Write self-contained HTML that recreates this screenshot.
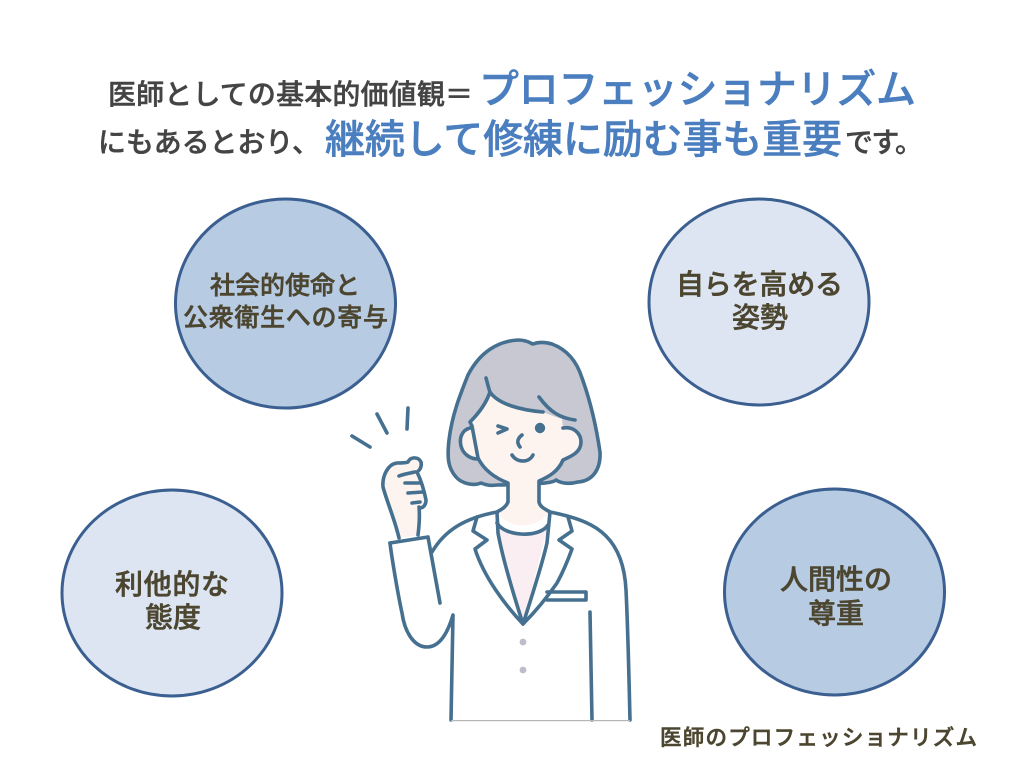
<!DOCTYPE html>
<html lang="ja"><head><meta charset="utf-8"><style>
html,body{margin:0;padding:0;background:#fff}
svg{display:block}
text{font-family:"Liberation Sans","Noto Sans CJK JP",sans-serif}
.d{fill:#444;stroke:#444;stroke-width:.45;font-size:28px;font-weight:500}
.b{fill:#4a7ebf;stroke:#4a7ebf;stroke-width:.5;font-weight:500;font-size:40px}
.l{fill:#4c4630;stroke:#4c4630;stroke-width:.55;font-weight:500;font-size:25px}
.s{fill:none;stroke:#46708f;stroke-width:3.6;stroke-linecap:round;stroke-linejoin:round}
.c{stroke:#3a5f90;stroke-width:3}
</style></head><body>
<svg width="1024" height="768" viewBox="0 0 1024 768" xmlns="http://www.w3.org/2000/svg">
<rect width="1024" height="768" fill="#fff"/>
<text class="d" x="108" y="104" textLength="365">医師としての基本的価値観＝</text>
<text class="b" x="479" y="103" textLength="437">プロフェッショナリズム</text>
<text class="d" x="98" y="152" textLength="222">にもあるとおり、</text>
<text class="b" x="325" y="153" textLength="517">継続して修練に励む事も重要</text>
<text class="d" x="845" y="152" textLength="78">です。</text>

<ellipse class="c" cx="285.5" cy="303.5" rx="110" ry="104.5" fill="#b7cbe3"/>
<ellipse class="c" cx="759" cy="302" rx="110" ry="103" fill="#dce5f1"/>
<ellipse class="c" cx="172" cy="593" rx="110" ry="103" fill="#dce5f1"/>
<ellipse class="c" cx="834.5" cy="592" rx="110" ry="103" fill="#b7cbe3"/>

<text class="l" x="210" y="294" textLength="150">社会的使命と</text>
<text class="l" x="183" y="326" textLength="205">公衆衛生への寄与</text>
<text class="l" x="676" y="294" font-size="28" style="font-size:28px" textLength="167">自らを高める</text>
<text class="l" x="732" y="327" style="font-size:28px" textLength="56">姿勢</text>
<text class="l" x="115" y="594" style="font-size:28px" textLength="114">利他的な</text>
<text class="l" x="145" y="627" style="font-size:28px" textLength="56">態度</text>
<text class="l" x="780" y="589" style="font-size:28px" textLength="112">人間性の</text>
<text class="l" x="808" y="623" style="font-size:28px" textLength="56">尊重</text>
<text class="l" x="660" y="745" style="font-size:21.5px" textLength="317">医師のプロフェッショナリズム</text>

<!-- coat -->
<path d="M497 512C470 517 445 530 432 552L440 603L453 615L451 720H630C629 670 628 620 625 577C620 545 600 525 550 512Z" fill="#fff"/>
<path d="M497 523C505 533 540 538 548 525L523 624Z" fill="#fbeef3"/>
<!-- hair -->
<path class="s" style="fill:#c8c8d3" d="M518 340C527 340 530 343 533 344C538 342 545 342 552 344C568 350 577 362 582 378C590 400 596 425 600 452C601 470 592 481 578 482C570 484 562 484 556 480C552 484 530 484 497 485C490 486 486 485 481 483C474 486 462 484 456 477C448 468 447 458 449 440C452 415 460 395 468 375C480 352 498 341 518 340Z"/>
<!-- face and neck -->
<path d="M486 385C495 402 520 410 543 412C550 415 556 417 562 419L563 428L581 440L563 460C557 472 548 478 539 482V502L550 512C535 530 510 530 497 512L508 502V483C495 478 485 470 478 458L470 422C480 412 487 400 490 390Z" fill="#fdf4f0"/>
<path d="M470 428C462 430 459 440 461 447C463 454 470 459 478 459L472 425Z" fill="#fdf4f0"/>
<path d="M563 428C574 426 581 435 581 442C581 452 572 457 562 460Z" fill="#fdf4f0"/>
<path d="M399 538C395 520 387 502 383 487C382 476 388 464 397 463C402 463 406 463 408 462C410 457 418 456 421 462C422 467 420 470 417 472C421 480 424 490 426 500C426 505 423 508 420 508L418 535Z" fill="#fdf4f0"/>
<g class="s">
<path d="M486 378C488 385 489 390 490 392C486 404 478 414 470 422L472 426L478 458C484 470 495 478 508 483V502C506 507 502 509 497 512"/>
<path d="M490 392C498 404 520 410 543 412"/>
<path d="M539 397C550 412 560 418 575 420"/>
<path d="M470 428C462 430 459 438 461 446C463 454 470 459 478 459"/>
<path d="M563 428C574 426 581 434 581 442C581 452 572 456 563 460C558 472 548 477 539 481V502C540 507 545 509 550 512"/>
<path d="M498 426L507 429L498 433"/>
<path d="M522 435C518 438 516 442 520 447"/>
<path d="M512 455C517 463 529 463 533 455"/>
<path d="M408 408L407 429M377 414L387 433M352 436L370 447"/>
<path d="M399 538C395 520 387 502 383 487C382 476 388 464 397 463C402 463 406 463 408 462C410 457 418 456 421 462C422 467 420 470 417 472C421 480 424 490 426 500C426 505 423 508 420 508"/>
<path d="M419 507C420 517 419 527 418 535"/>
<path d="M399 476C404 474 410 473 415 472M405 483H420M408 493L423 492M412 503L420 502"/>
<path d="M432 552C445 530 465 518 497 512"/>
<path d="M550 512C580 518 595 525 606 536C620 550 625 570 626 590C628 630 629 680 630 720"/>
<path d="M390 543C391 552 397 590 402 613C405 634 415 647 427 647C440 647 448 632 453 615L451 720"/>
<path d="M390 543L428 537L440 603"/>
<path d="M477 517L473 531L487 540L475 549C484 577 505 605 523 624C535 612 548 596 557 583C563 572 568 560 572 549L559 540L572 531L568 517"/>
<path d="M497 512L498 533C503 560 514 596 523 624C532 596 542 565 547 543L550 512"/>
<path d="M497 523C505 537 540 538 548 525"/>
<path d="M547 592H586V600H547"/>
<path d="M590 612L592 720"/>
</g>
<rect x="451" y="720" width="179" height="1.2" fill="#b5b5b5"/>
<circle cx="540" cy="428" r="5.2" fill="#46708f"/>
<circle cx="523" cy="642" r="3.4" fill="#bdbccb"/>
<circle cx="523" cy="670" r="3.4" fill="#bdbccb"/>
</svg>
</body></html>
